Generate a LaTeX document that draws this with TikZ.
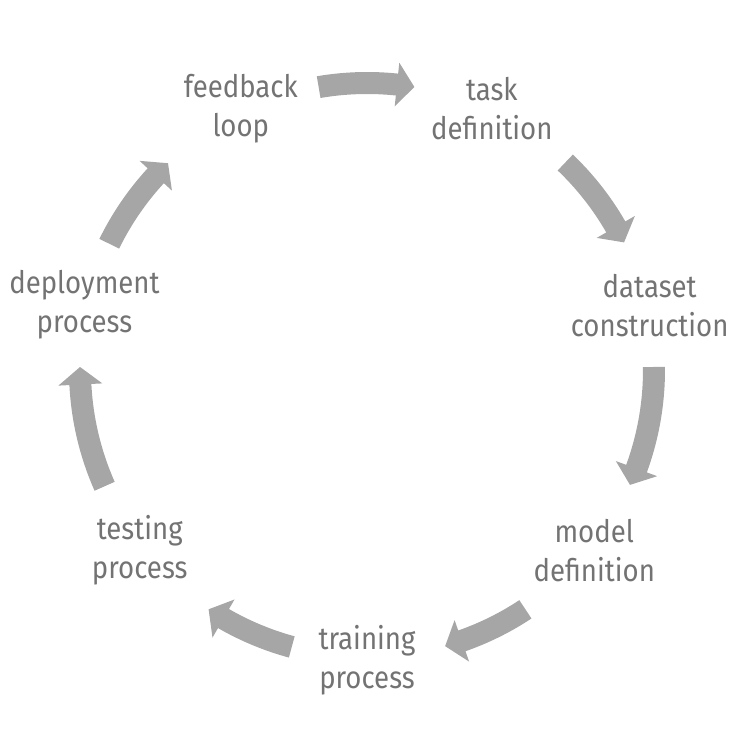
\documentclass[tikz,border=0pt]{standalone}
\usepackage{fontspec}
\setmainfont{Fira Sans}[FakeStretch=0.89]
\definecolor{arrowgray}{HTML}{A6A6A6}
\definecolor{textgray}{HTML}{737373}
\begin{document}
\begin{tikzpicture}[x=1pt,y=1pt,
  lbl/.style={text=textgray,align=center,font=\fontsize{31}{39}\selectfont,inner sep=0pt}]
\useasboundingbox (0,0) rectangle (748,748);
\begin{scope}[shift={(367,378)}]
\def\R{290}
\node[lbl] (training) at (-90:\R) {training\\process};
\node[lbl] (model) at (-38.4:\R) {model\\definition};
\node[lbl] (dataset) at (12.9:\R) {dataset\\construction};
\node[lbl] (task) at (64.5:\R) {task\\definition};
\node[lbl] (feedback) at (115.8:\R) {feedback\\loop};
\node[lbl] (deploy) at (167:\R) {deployment\\process};
\node[lbl] (testing) at (218.4:\R) {testing\\process};
\def\r{287}
\foreach \as/\at in {-56.5/-74.2, 0.6/-23.6, 46.3/26.4, 99.7/80.5, 153.9/133.9, 203.9/179.4, -105.2/-123.5}{
  \pgfmathsetmacro{\ab}{\at+3.5}
  \fill[arrowgray] (\as:\r+11) arc[start angle=\as,end angle=\ab,radius=\r+11]
    -- (\ab:\r+22) -- (\at:\r) -- (\ab:\r-22) -- (\ab:\r-11)
    arc[start angle=\ab,end angle=\as,radius=\r-11] -- cycle;
}
\end{scope}
\end{tikzpicture}
\end{document}
